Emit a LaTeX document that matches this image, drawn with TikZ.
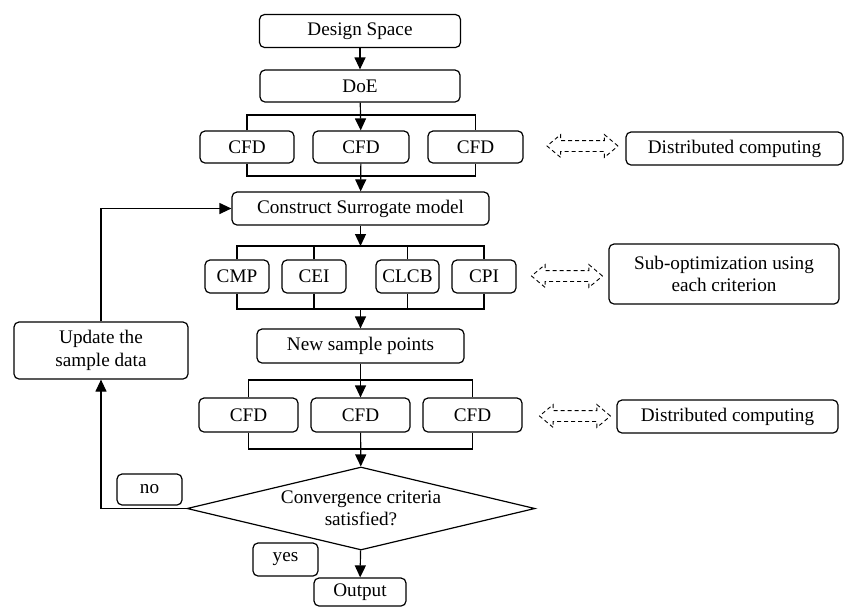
\documentclass[tikz,border=0pt]{standalone}
\usepackage{fontspec}
\setmainfont{Liberation Serif}
\usetikzlibrary{shapes,arrows.meta}
\tikzstyle{block} = [draw, rectangle, rounded corners=2.5pt, line width=0.6pt,
    inner sep=0pt, align=center, font=\fontsize{9.6}{11.2}\selectfont]
\tikzstyle{decision} = [draw, diamond, aspect=4.2, line width=0.6pt, inner sep=0pt,
    align=center, font=\fontsize{9.6}{11.2}\selectfont]
\tikzstyle{line} = [draw, line width=0.6pt]
\tikzstyle{arrow} = [line, -{Triangle[length=6pt,width=5.5pt]}]
\tikzstyle{dblarrow} = [draw, double arrow, line width=0.45pt,
    dash pattern=on 2pt off 1.5pt, inner xsep=0pt, inner ysep=2.5pt,
    minimum height=35.5pt, double arrow head extend=3pt, double arrow tip angle=80]

\begin{document}
\begin{tikzpicture}[x=0.5pt, y=-0.5pt]
\useasboundingbox (0,0) rectangle (846,607);

% main column
\node[block, minimum width=100.5pt, minimum height=16.5pt] (space) at (360,31) {Design Space};
\node[block, minimum width=100pt, minimum height=16pt] (doe) at (360,86) {DoE};

\node[block, minimum width=47pt, minimum height=16pt] (cfdA1) at (247,147) {CFD};
\node[block, minimum width=48pt, minimum height=16pt] (cfdA2) at (361,147) {CFD};
\node[block, minimum width=47.5pt, minimum height=16pt] (cfdA3) at (475.5,147) {CFD};

\node[block, minimum width=128.5pt, minimum height=16.5pt] (surr) at (360.5,208.5) {Construct Surrogate model};

\node[block, minimum width=32pt, minimum height=16.5pt] (cmp) at (237,276.5) {CMP};
\node[block, minimum width=32pt, minimum height=16.5pt] (cei) at (314,276.5) {CEI};
\node[block, minimum width=31.5pt, minimum height=16.5pt] (clcb) at (407.5,276.5) {CLCB};
\node[block, minimum width=32pt, minimum height=16.5pt] (cpi) at (484,276.5) {CPI};

\node[block, minimum width=103.5pt, minimum height=17pt] (newpts) at (360.5,346) {New sample points};

\node[block, minimum width=49.5pt, minimum height=17pt] (cfdB1) at (248.5,415) {CFD};
\node[block, minimum width=49.5pt, minimum height=17pt] (cfdB2) at (360.5,415) {CFD};
\node[block, minimum width=49.5pt, minimum height=17pt] (cfdB3) at (472.5,415) {CFD};

\node[decision, minimum width=174pt, minimum height=41.5pt] (conv) at (361,508.5) {Convergence criteria\\satisfied?};
\node[block, minimum width=46pt, minimum height=14pt] (output) at (360,592) {Output};
\node[block, minimum width=32.5pt, minimum height=16.5pt] (yes) at (285.5,559.5) {yes};
\node[block, minimum width=32.5pt, minimum height=15.5pt] (no) at (149.5,489.5) {no};
\node[block, minimum width=87pt, minimum height=28.5pt] (update) at (101,350.5) {Update the\\sample data};

% side notes
\node[block, minimum width=108.5pt, minimum height=16.5pt] (distA) at (734.5,148.5) {Distributed computing};
\node[block, minimum width=115pt, minimum height=30pt] (subopt) at (724,274) {Sub-optimization using\\each criterion};
\node[block, minimum width=110.5pt, minimum height=16.5pt] (distB) at (727.5,416.5) {Distributed computing};
\node[dblarrow] (dA) at (582.5,146) {};
\node[dblarrow] (dB) at (567,276) {};
\node[dblarrow] (dC) at (575,416) {};

% bus points
\coordinate (busA) at (361,115);
\coordinate (busB) at (361,176);
\coordinate (busC) at (360.5,246);
\coordinate (busD) at (360.5,309);
\coordinate (busE) at (360.5,380);
\coordinate (busF) at (360.5,449);

\draw[arrow] (space) -- (doe);
\draw[arrow] (doe) -- (cfdA2);
\draw[line] (cfdA1.north) |- (busA) -| (cfdA3.north);
\draw[line] (cfdA1.south) |- (busB) -| (cfdA3.south);
\draw[arrow] (cfdA2) -- (surr);

\draw[arrow] (surr) -- (busC);
\draw[line] (cmp.north) |- (busC) -| (cpi.north);
\draw[line] (cei.north) -- (cei.north |- busC);
\draw[line] (clcb.north) -- (clcb.north |- busC);
\draw[line] (cmp.south) |- (busD) -| (cpi.south);
\draw[line] (cei.south) -- (cei.south |- busD);
\draw[line] (clcb.south) -- (clcb.south |- busD);
\draw[arrow] (busD) -- (newpts);

\draw[arrow] (newpts) -- (cfdB2);
\draw[line] (cfdB1.north) |- (busE) -| (cfdB3.north);
\draw[line] (cfdB1.south) |- (busF) -| (cfdB3.south);
\draw[arrow] (cfdB2) -- (conv);
\draw[arrow] (conv) -- (output);

% loop back
\draw[arrow] (conv.west) -| (update.south);
\draw[arrow] (update.north) |- (surr.west);
\end{tikzpicture}
\end{document}
